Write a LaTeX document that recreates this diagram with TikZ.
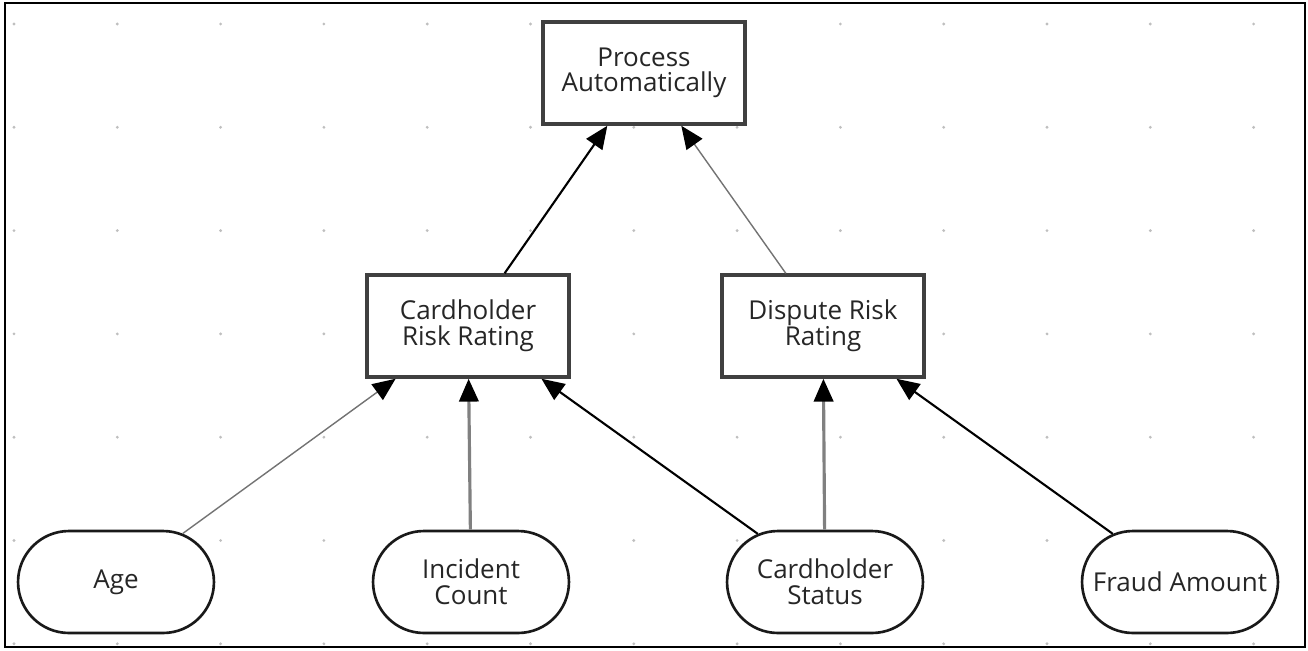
\documentclass[tikz,border=0pt]{standalone}
\usepackage{fontspec}
\setmainfont{Open Sans}
\usetikzlibrary{arrows.meta,shapes.misc}
\begin{document}
\begin{tikzpicture}[x=0.02cm,y=-0.02cm,font=\fontsize{14.8}{14.6}\selectfont,
  dec/.style={draw=black!75,line width=2pt,fill=white,text=black!85,minimum width=4.04cm,minimum height=2.04cm,align=center,inner sep=2pt},
  inp/.style={rounded rectangle,draw=black!90,line width=1.5pt,fill=white,text=black!85,minimum width=4.06cm,minimum height=2.04cm,align=center,inner sep=2pt},
  lnk/.style={-{Triangle[length=13pt,width=11pt,black]},line width=1.2pt,black},
  lnkg/.style={-{Triangle[length=13pt,width=11pt,black]},line width=0.8pt,black!55},
  lnkw/.style={-{Triangle[length=13pt,width=11pt,black]},line width=1.8pt,black!50}]
  \useasboundingbox (0,0) rectangle (1308,650);
  % grid dots
  \foreach \i in {0,...,12}
    \foreach \j in {0,...,6}
      \fill[black!25] (14+103.3*\i,24+103.3*\j) circle[radius=0.9pt];
  \draw[line width=1.5pt] (5,3) rectangle (1305,647);
  \node[dec] (pa) at (644,73){Process\\Automatically};
  \node[dec] (crr) at (468,326){Cardholder\\Risk Rating};
  \node[dec] (drr) at (823,326){Dispute Risk\\Rating};
  \node[inp] (age) at (116,582){Age};
  \node[inp] (ic) at (471,582){Incident\\Count};
  \node[inp] (cs) at (825,582){Cardholder\\Status};
  \node[inp] (fa) at (1180,582){Fraud Amount};
  \draw[lnk] (crr) -- (pa);
  \draw[lnkg] (drr) -- (pa);
  \draw[lnkg] (age) -- (crr);
  \draw[lnkw] (ic) -- (crr);
  \draw[lnk] (cs) -- (crr);
  \draw[lnkw] (cs) -- (drr);
  \draw[lnk] (fa) -- (drr);
\end{tikzpicture}
\end{document}
